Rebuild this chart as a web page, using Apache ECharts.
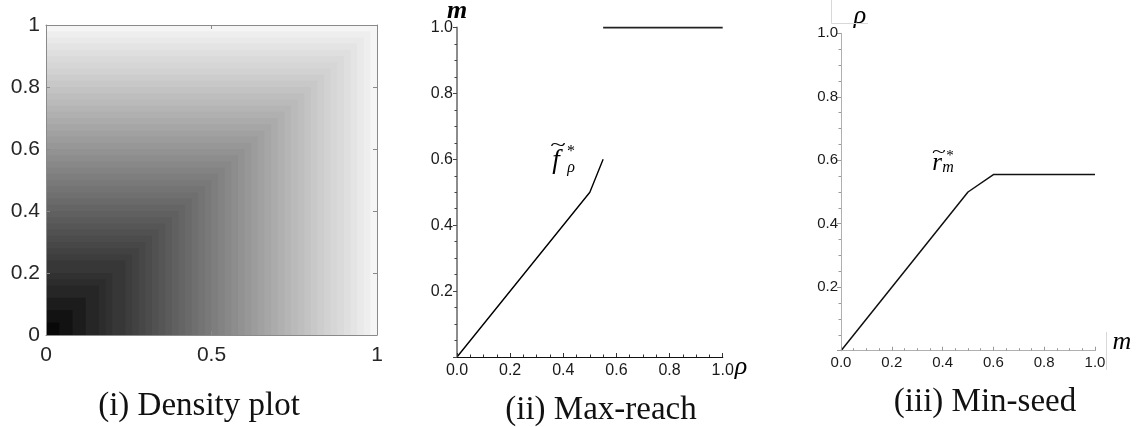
<!DOCTYPE html>
<html>
<head>
<meta charset="utf-8">
<script src="https://cdn.jsdelivr.net/npm/echarts@6/dist/echarts.min.js"></script>
<style>
  html, body { margin: 0; padding: 0; background: #fff; }
  #chart { width: 1137px; height: 427px; }
</style>
</head>
<body>
<div id="chart"></div>
<script>
// ---------- DATA ----------
// (i) Density plot: nested square bands (upper edge of band in max(x,y)) and grey level
const densityEdges = [0.04, 0.08, 0.12, 0.16, 0.18, 0.20, 0.24, 0.26, 0.28, 0.30,
                      0.32, 0.34, 0.36, 0.38, 0.40, 0.42, 0.44, 0.46, 0.48, 0.50,
                      0.52, 0.54, 0.56, 0.58, 0.60, 0.62, 0.64, 0.66, 0.68, 0.70,
                      0.72, 0.74, 0.76, 0.78, 0.80, 0.82, 0.84, 0.86, 0.88, 0.90,
                      0.92, 0.94, 0.96, 0.98, 1.00];
const densityGrays = [8, 18, 28, 38, 44, 49, 55, 61, 66, 71,
                      76, 81, 86, 91, 96, 101, 106, 111, 116, 121,
                      126, 131, 136, 141, 146, 151, 156, 161, 166, 171,
                      176, 181, 186, 190, 195, 200, 205, 210, 214, 218,
                      223, 228, 233, 238, 245];
const densityXTicks = [0, 0.5, 1];
const densityYTicks = [0, 0.2, 0.4, 0.6, 0.8, 1];

// (ii) Max-reach  (x: rho, y: m)
const maxReachRho1 = [0, 0.5, 0.55];
const maxReachM1   = [0, 0.5, 0.6];
const maxReachRho2 = [0.55, 1.0];
const maxReachM2   = [1.0, 1.0];

// (iii) Min-seed  (x: m, y: rho)
const minSeedM   = [0, 0.5, 0.6, 1.0];
const minSeedRho = [0, 0.5, 0.555, 0.555];

const captions = ['(i) Density plot', '(ii) Max-reach', '(iii) Min-seed'];

// ---------- BUILD ----------
const zip = (a, b) => a.map((v, i) => [v, b[i]]);
const densityData = zip(densityEdges, densityGrays).reverse(); // largest square first

const frameColor = '#8a8a8a';
const sans = 'Liberation Sans, Arial, sans-serif';
const serif = 'Liberation Serif, Times New Roman, serif';

function densityAxis(pos, showLabel, ticks) {
  return {
    type: 'value', min: 0, max: 1, interval: ticks[1] - ticks[0], position: pos, z: 5,
    axisLine: { show: true, onZero: false, lineStyle: { color: frameColor, width: 1 } },
    axisTick: { show: true, inside: true, length: 4, lineStyle: { color: frameColor } },
    axisLabel: { show: showLabel, fontFamily: sans, fontSize: 21, color: '#262626',
                 margin: (pos === 'bottom') ? 10 : 6 },
    splitLine: { show: false }
  };
}

function mathAxis(grid, isX, opts) {
  return Object.assign({
    gridIndex: grid, type: 'value', min: 0, max: 1, interval: 0.2, z: 5,
    axisLine: { show: true, onZero: false, lineStyle: { color: opts.lineColor, width: opts.lineWidth } },
    axisTick: { show: true, inside: isX, length: 4, lineStyle: { color: opts.tickColor } },
    minorTick: { show: true, splitNumber: 4, length: 2.5, lineStyle: { color: opts.tickColor } },
    axisLabel: {
      fontFamily: sans, fontSize: opts.fontSize, color: '#1a1a1a', margin: isX ? opts.xMargin : opts.yMargin,
      formatter: v => (!isX && v === 0) ? '' : v.toFixed(1)
    },
    splitLine: { show: false }
  }, isX ? { position: 'bottom' } : { position: 'left' });
}

function txt(x, y, text, font, extra) {
  return Object.assign({ type: 'text', x: x, y: y,
    style: { text: text, font: font, fill: '#000', align: 'center', verticalAlign: 'middle' } }, extra || {});
}

const option = {
  animation: false,
  backgroundColor: '#fff',
  grid: [
    { left: 46, top: 25, width: 331, height: 310 },
    { left: 457, top: 27.5, width: 265.7, height: 329.5 },
    { left: 841, top: 33.3, width: 254, height: 317.4 }
  ],
  xAxis: [
    Object.assign(densityAxis('bottom', true, densityXTicks), { gridIndex: 0 }),
    Object.assign(densityAxis('top', false, densityXTicks), { gridIndex: 0 }),
    mathAxis(1, true, { lineColor: '#111', lineWidth: 1.2, tickColor: '#333', fontSize: 16, xMargin: 6, yMargin: 4 }),
    mathAxis(2, true, { lineColor: '#b0b0b0', lineWidth: 1, tickColor: '#999', fontSize: 15, xMargin: 5, yMargin: 3 })
  ],
  yAxis: [
    Object.assign(densityAxis('left', true, densityYTicks), { gridIndex: 0 }),
    Object.assign(densityAxis('right', false, densityYTicks), { gridIndex: 0 }),
    mathAxis(1, false, { lineColor: '#8c8c8c', lineWidth: 2, tickColor: '#444', fontSize: 16, xMargin: 6, yMargin: 4 }),
    mathAxis(2, false, { lineColor: '#b0b0b0', lineWidth: 1, tickColor: '#999', fontSize: 15, xMargin: 5, yMargin: 3 })
  ],
  series: [
    {
      type: 'custom', xAxisIndex: 0, yAxisIndex: 0, z: 1,
      data: densityData,
      renderItem: function (params, api) {
        const e = api.value(0), g = api.value(1);
        const p0 = api.coord([0, 0]);
        const p1 = api.coord([e, e]);
        return {
          type: 'rect',
          shape: { x: p0[0], y: p1[1], width: p1[0] - p0[0], height: p0[1] - p1[1] },
          style: { fill: 'rgb(' + g + ',' + g + ',' + g + ')' }
        };
      }
    },
    {
      type: 'line', xAxisIndex: 2, yAxisIndex: 2, data: zip(maxReachRho1, maxReachM1),
      symbol: 'none', lineStyle: { color: '#000', width: 1.4 }
    },
    {
      type: 'line', xAxisIndex: 2, yAxisIndex: 2, data: zip(maxReachRho2, maxReachM2),
      symbol: 'none', lineStyle: { color: '#222', width: 1.8 }
    },
    {
      type: 'line', xAxisIndex: 3, yAxisIndex: 3, data: zip(minSeedM, minSeedRho),
      symbol: 'none', lineStyle: { color: '#111', width: 1.5 }
    }
  ],
  graphic: [
    // captions
    txt(199, 406, captions[0], '33px ' + serif, { style: { text: captions[0], font: '33px ' + serif, fill: '#111', align: 'center', verticalAlign: 'middle' } }),
    txt(601, 410, captions[1], '33px ' + serif, { style: { text: captions[1], font: '33px ' + serif, fill: '#111', align: 'center', verticalAlign: 'middle' } }),
    txt(985, 402, captions[2], '33px ' + serif, { style: { text: captions[2], font: '33px ' + serif, fill: '#111', align: 'center', verticalAlign: 'middle' } }),
    // panel ii axis names
    txt(457, 11, 'm', 'italic bold 26px ' + serif),
    txt(741, 367, 'ρ', 'italic 26px ' + serif),
    // panel ii annotation f~*_rho
    txt(556, 161, 'f', 'italic 27px ' + serif),
    txt(558, 146, '~', '18px ' + serif, { scaleX: 1.6 }),
    txt(571, 152, '*', '16px ' + serif),
    txt(571, 168, 'ρ', 'italic 16px ' + serif),
    // panel iii axis names
    txt(860, 16, 'ρ', 'italic 26px ' + serif),
    txt(1122, 342, 'm', 'italic 26px ' + serif),
    { type: 'line', shape: { x1: 831.5, y1: 0, x2: 831.5, y2: 23.5 }, style: { stroke: '#d8d8d8', lineWidth: 1 } },
    { type: 'line', shape: { x1: 831.5, y1: 23.5, x2: 868, y2: 23.5 }, style: { stroke: '#d8d8d8', lineWidth: 1 } },
    { type: 'line', shape: { x1: 1106.5, y1: 332, x2: 1106.5, y2: 370 }, style: { stroke: '#d8d8d8', lineWidth: 1 } },
    // panel iii annotation r~*_m
    txt(937, 163, 'r', 'italic 25px ' + serif),
    txt(939, 153, '~', '17px ' + serif, { scaleX: 1.5 }),
    txt(950, 156, '*', '15px ' + serif),
    txt(948, 168, 'm', 'italic 16px ' + serif)
  ]
};

const chart = echarts.init(document.getElementById('chart'), null, { renderer: 'canvas' });
chart.setOption(option);
</script>
</body>
</html>
